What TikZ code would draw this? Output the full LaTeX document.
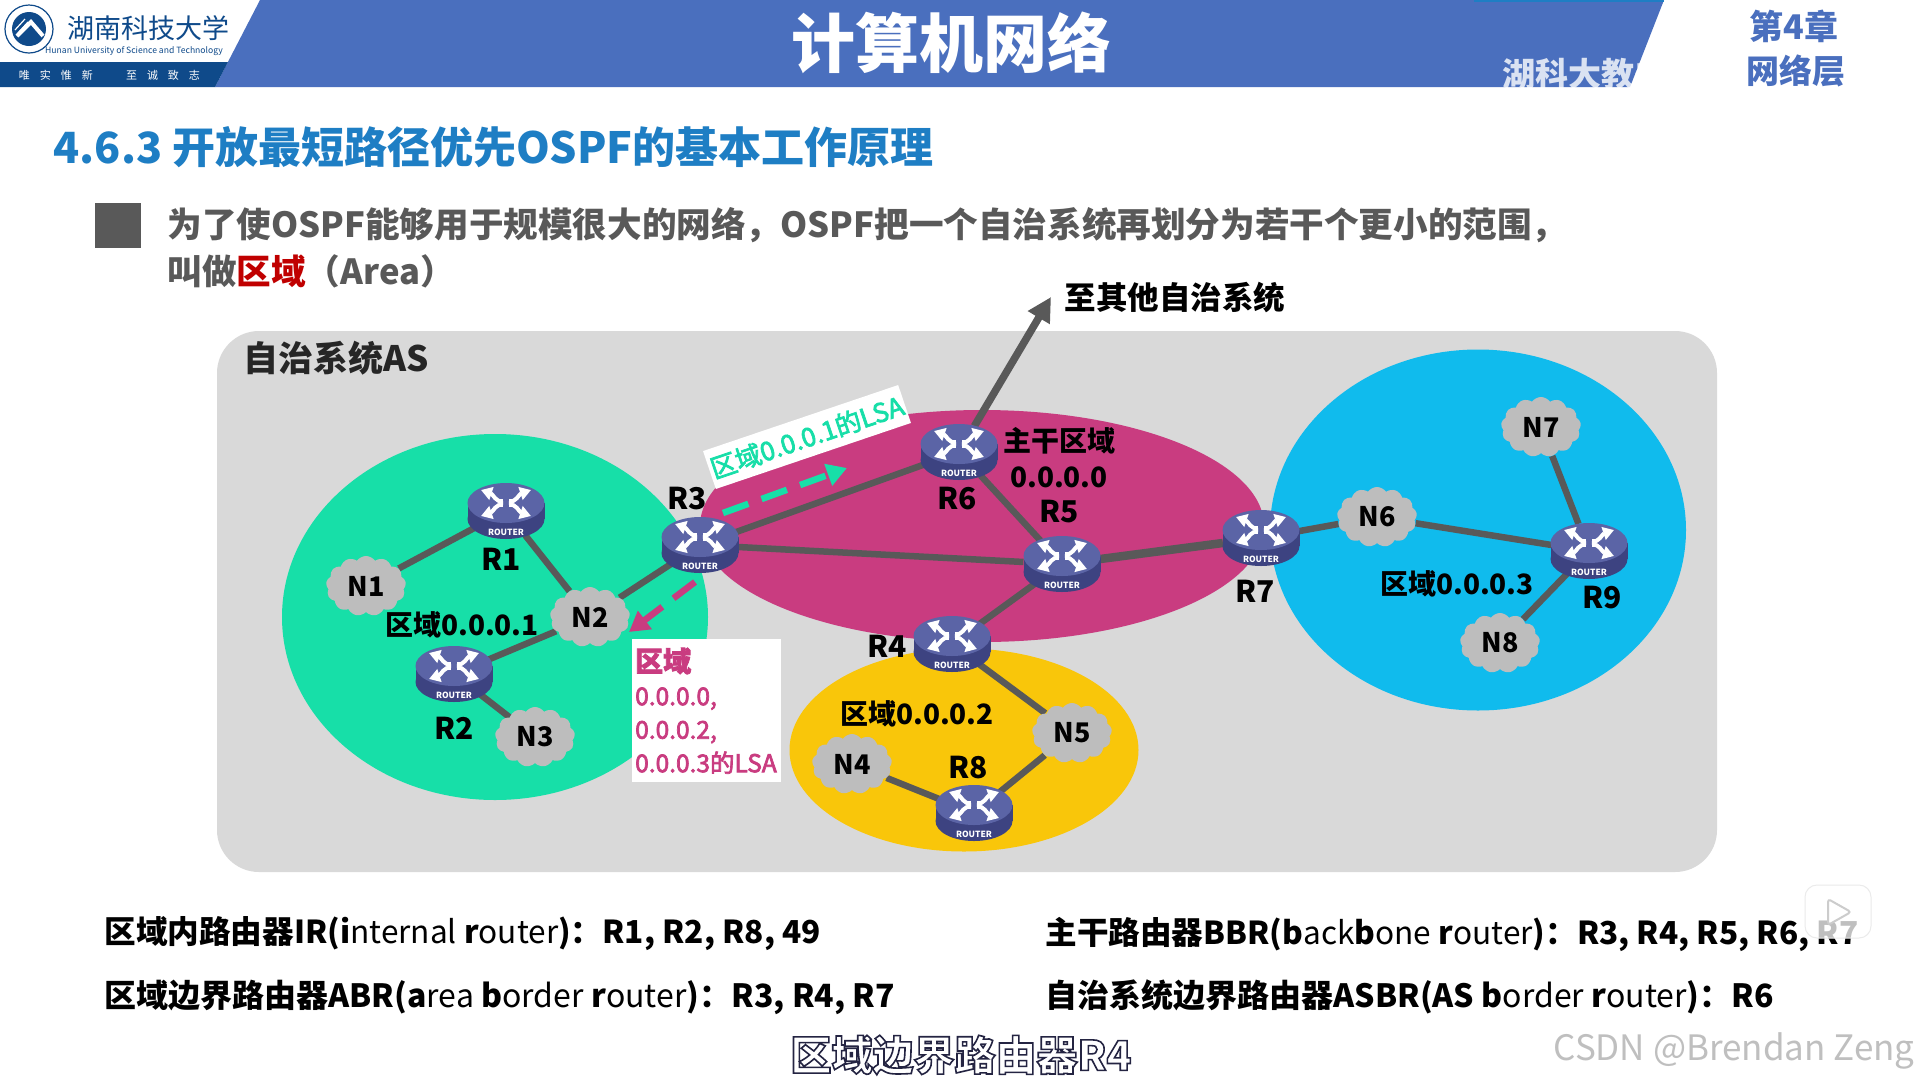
\documentclass[tikz,border=0pt]{standalone}
\usepackage{fontspec}
\setmainfont{Noto Sans CJK SC}
\usepackage{tikz}
\usetikzlibrary{arrows.meta,positioning,calc,shapes.geometric,shapes.symbols}
\usepackage{xcolor}
\definecolor{HeadBlue}{HTML}{4A6FBE}
\definecolor{StripNavy}{HTML}{0F4A8A}
\definecolor{TitleBlue}{HTML}{1E7EC4}
\definecolor{BodyGray}{HTML}{595959}
\definecolor{PanelGray}{HTML}{D9D9D9}
\definecolor{AreaGreen}{HTML}{17DFA8}
\definecolor{AreaRose}{HTML}{C93C80}
\definecolor{AreaBlue}{HTML}{10BBED}
\definecolor{AreaAmber}{HTML}{F9C60A}
\definecolor{CloudGray}{HTML}{BDBDBD}
\definecolor{RouterTop}{HTML}{5B64A6}
\definecolor{RouterSide}{HTML}{3D4381}
\definecolor{EmphRed}{HTML}{C00000}
\newcommand{\fs}[1]{\fontsize{#1}{#1}\selectfont}
\newcommand{\thinpart}[1]{{\mdseries #1}}
\newcommand{\outlined}[1]{\special{pdf:literal 2 Tr 1.6 w 0.14 0.14 0.26 RG}#1\special{pdf:literal 0 Tr 1 w 0 G}}
\newcommand{\heavier}[2]{\special{pdf:literal 2 Tr 0.7 w #1 RG}#2\special{pdf:literal 0 Tr 1 w 0 G}}
\pgfdeclarelayer{arealayer}
\pgfdeclarelayer{linklayer}
\pgfsetlayers{arealayer,linklayer,main}
\tikzset{
  areablob/.style={ellipse, inner sep=0pt, fill=#1},
  netcloud/.style={cloud, cloud puffs=13, cloud puff arc=110, aspect=1.35, inner sep=0pt,
    minimum width=80, minimum height=60, fill=CloudGray, font=\bfseries\fs{27}},
  routerbase/.style={ellipse, inner sep=0pt, minimum width=77, minimum height=56},
  routerarrow/.style={white, line width=4, -{Triangle[length=11,width=13]}},
  routertag/.style={font=\bfseries\fs{30}},
  arealabel/.style={font=\bfseries\fs{28}},
  linkline/.style={draw=BodyGray, line width=6.5},
  bottomline/.style={anchor=west, font=\bfseries\fs{31.6}},
}
\newcommand{\routericon}[2]{%
  \node[routerbase] (#1) at (#2) {};
  \begin{scope}[shift={(#2)}]
    \fill[RouterSide] (0,8) ellipse [x radius=38.5, y radius=20];
    \fill[RouterSide] (-38.5,-8) rectangle (38.5,8);
    \fill[RouterTop] (0,-8) ellipse [x radius=38.5, y radius=20];
    \begin{scope}[shift={(0,-8)}]
      \foreach \sx/\sy in {-1/-1,1/-1,-1/1,1/1}
        \draw[routerarrow] (\sx*3,\sy*2) .. controls (\sx*10,\sy*0) and (\sx*13,\sy*9) .. (\sx*25,\sy*13);
    \end{scope}
    \node[white, font=\bfseries\fs{8.5}] (#1tag) at (0,21) {ROUTER};
  \end{scope}}

\begin{document}
\begin{tikzpicture}[x=1pt,y=-1pt]
  \useasboundingbox (0,0) rectangle (1920,1080);

  % header band
  \fill[HeadBlue] (260,0) -- (1664,0) -- (1630,87) -- (215,87) -- cycle;
  \fill[TitleBlue] (1474,0) rectangle (1664,1.5);
  \fill[StripNavy] (0,62) -- (228,62) -- (215,87) -- (0,87) -- cycle;
  \draw[StripNavy, line width=1.2] (29,29) circle [radius=24];
  \fill[StripNavy] (29,29) circle [radius=17];
  \draw[white, line width=4] (17,36) -- (31,22) -- (43,36);
  \draw[white, line width=1.2] (15,30) -- (25,19) (18,33) -- (28,22);
  \node[text=StripNavy, font=\fs{27}] (schoolname) at (148,28) {湖南科技大学};
  \node[text=StripNavy, font=\fs{8.6}] (schooleng) at (134,51) {Hunan University of Science and Technology};
  \node[text=white, font=\fs{11}] (mottoa) at (56,75) {唯\hspace{10pt}实\hspace{10pt}惟\hspace{10pt}新};
  \node[text=white, font=\fs{11}] (mottob) at (163,75) {至\hspace{10pt}诚\hspace{10pt}致\hspace{10pt}志};
  \node[text=white, font=\bfseries\fs{64}] (title) at (951,43) {计算机网络};
  \node[text=HeadBlue, font=\bfseries\fs{34}] (chapter) at (1794,26) {第4章};
  \node[text=HeadBlue, font=\bfseries\fs{33}] (layername) at (1796,71) {网络层};
  \node[text=white, opacity=.8, anchor=west, font=\bfseries\fs{33}] (mark) at (1499,74) {湖科大教书匠};

  % heading and intro
  \node[anchor=west, text=TitleBlue, font=\bfseries\fs{43}] (heading) at (50,147) {4.6.3 开放最短路径优先OSPF的基本工作原理};
  \fill[BodyGray] (95,203) rectangle (141,248);
  \node[anchor=west, text=BodyGray, font=\bfseries\fs{34.6}] (introa) at (164,225) {为了使OSPF能够用于规模很大的网络，OSPF把一个自治系统再划分为若干个更小的范围，};
  \node[anchor=west, text=BodyGray, font=\bfseries\fs{34.6}] (introb) at (164,271) {叫做\textcolor{EmphRed}{区域}（Area）};

  % areas
  \begin{pgfonlayer}{arealayer}
    \fill[white] (0,0) rectangle (1920,1080);
    \fill[PanelGray, rounded corners=42] (217,331) rectangle (1717,872);
    \node[areablob=AreaRose, minimum width=564, minimum height=232] (area0) at (982,526) {};
    \node[areablob=AreaGreen, minimum width=426, minimum height=366] (area1) at (495,617) {};
    \node[areablob=AreaAmber, minimum width=349, minimum height=203] (area2) at (964,750) {};
    \node[areablob=AreaBlue, minimum width=416, minimum height=361] (area3) at (1478,530) {};
  \end{pgfonlayer}
  \node[anchor=west, text=black!85, font=\bfseries\fs{35}] (aslabel) at (240,358) {自治系统AS};

  % routers
  \routericon{R1}{506,511}
  \routericon{R2}{454,674}
  \routericon{R3}{700,545}
  \routericon{R4}{952,644}
  \routericon{R5}{1062,564}
  \routericon{R6}{959,452}
  \routericon{R7}{1261,538}
  \routericon{R8}{974,813}
  \routericon{R9}{1589,551}

  % networks
  \node[netcloud] (N1) at (366,586) {N1};
  \node[netcloud] (N2) at (590,617) {N2};
  \node[netcloud] (N3) at (535,737) {N3};
  \node[netcloud] (N4) at (852,764) {N4};
  \node[netcloud] (N5) at (1072,733) {N5};
  \node[netcloud] (N6) at (1377,517) {N6};
  \node[netcloud] (N7) at (1541,427) {N7};
  \node[netcloud] (N8) at (1500,643) {N8};

  \coordinate (toother) at (1051,297);
  \begin{pgfonlayer}{linklayer}
    \foreach \from/\to in {R1/N1,R1/N2,R3/N2,R2/N2,R2/N3,R3/R6,R3/R5,R6/R5,R5/R4,R4/N5,R8/N5,R8/N4,R7/N6,R9/N6,R9/N7,R9/N8}
      \draw[linkline] (\from) -- (\to);
    \draw[linkline, line width=8.5] (R5) -- (R7);
    \draw[draw=BodyGray, line width=7.5, -{Triangle[length=24,width=24]}] (R6) -- (toother);
  \end{pgfonlayer}
  \node[anchor=west, font=\bfseries\fs{31.5}] (otheras) at (1061,297) {至其他自治系统};

  % router tags
  \node[routertag] (tagR1) at (501,559) {R1};
  \node[routertag] (tagR2) at (454,728) {R2};
  \node[routertag] (tagR3) at (687,499) {R3};
  \node[routertag] (tagR4) at (887,646) {R4};
  \node[routertag] (tagR5) at (1059,512) {R5};
  \node[routertag] (tagR6) at (957,499) {R6};
  \node[routertag] (tagR7) at (1255,591) {R7};
  \node[routertag] (tagR8) at (968,768) {R8};
  \node[routertag] (tagR9) at (1602,598) {R9};

  % area labels
  \node[arealabel] (lblone) at (462,625) {区域0.0.0.1};
  \node[arealabel] (lbltwo) at (917,714) {区域0.0.0.2};
  \node[arealabel] (lblthree) at (1457,584) {区域0.0.0.3};
  \node[arealabel] (lblzeroa) at (1059,441) {主干区域};
  \node[arealabel] (lblzerob) at (1059,477) {0.0.0.0};

  % LSA flows
  \node[fill=white, rotate=18.7, minimum width=206, minimum height=40, inner sep=0pt,
    text=AreaGreen, font=\fs{26}] (lsagreen) at (807,437) {\heavier{0.09 0.87 0.66}{区域0.0.0.1的LSA}};
  \coordinate (gstart) at (723,513);
  \coordinate (gend) at (847,468);
  \draw[AreaGreen, line width=6.5, dash pattern=on 27pt off 14pt, -{Triangle[length=20,width=22]}] (gstart) -- (gend);
  \coordinate (rstart) at (695,582);
  \coordinate (rend) at (629,632);
  \draw[AreaRose, line width=6.5, dash pattern=on 27pt off 14pt, -{Triangle[length=20,width=22]}] (rstart) -- (rend);
  \node[fill=white, anchor=north west, minimum width=149, text width=143, minimum height=143, inner sep=3pt,
    text=AreaRose, align=left, font=\fontsize{24.5}{33.5}\selectfont] (lsarose) at (632,639)
    {\heavier{0.79 0.235 0.50}{{\bfseries\fs{28}区域}}\\\heavier{0.79 0.235 0.50}{0.0.0.0,}\\\heavier{0.79 0.235 0.50}{0.0.0.2,}\\\heavier{0.79 0.235 0.50}{0.0.0.3的LSA}};

  % router roles
  \node[bottomline] (roleir) at (101,934) {区域内路由器IR(i\thinpart{nternal} r\thinpart{outer})：R1, R2, R8, 49};
  \node[bottomline, font=\bfseries\fs{32}] (roleabr) at (101,997) {区域边界路由器ABR(a\thinpart{rea} b\thinpart{order} r\thinpart{outer})：R3, R4, R7};
  \node[bottomline] (rolebbr) at (1042,934) {主干路由器BBR(b\thinpart{ack}b\thinpart{one} r\thinpart{outer})：R3, R4, R5, R6, R7};
  \node[bottomline, font=\bfseries\fs{32}] (roleasbr) at (1042,997) {自治系统边界路由器ASBR(AS b\thinpart{order} r\thinpart{outer})：R6};

  % player overlay
  \draw[white, line width=5, line cap=round] (1830,885) -- (1822,875) (1845,885) -- (1853,875);
  \fill[white, opacity=.75, rounded corners=12] (1805,885) rectangle (1871,938);
  \draw[black!8, line width=1, rounded corners=12] (1805,885) rectangle (1871,938);
  \draw[black!20, fill=white, line width=2, rounded corners=3] (1828,899) -- (1851,912) -- (1828,925) -- cycle;

  % caption and mark
  \node[text=white, font=\bfseries\fs{41}] (caption) at (961,1055) {\outlined{区域边界路由器R4}};
  \node[anchor=east, text=black!25, font=\fs{35}] (csdn) at (1918,1051) {CSDN @Brendan Zeng};
\end{tikzpicture}
\end{document}
